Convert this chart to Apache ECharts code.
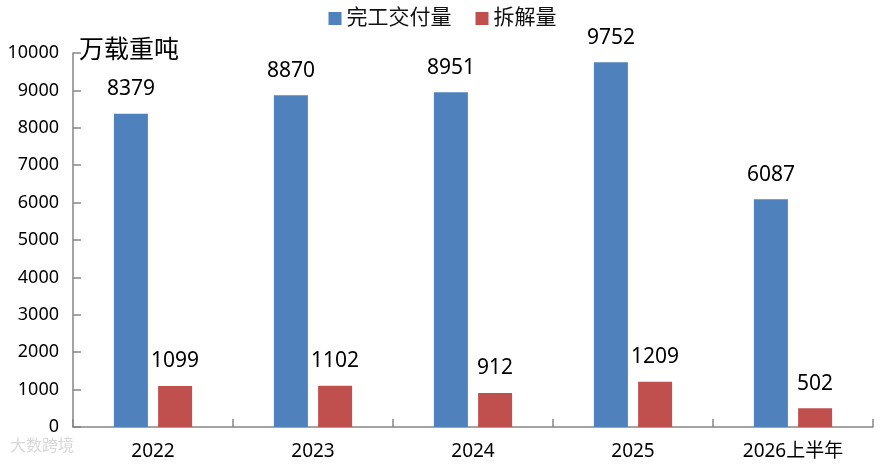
<!DOCTYPE html>
<html><head><meta charset="utf-8">
<script src="https://cdn.jsdelivr.net/npm/echarts@6/dist/echarts.min.js"></script>
<style>html,body{margin:0;padding:0;background:#fff}#c{width:885px;height:464px}</style>
</head><body><div id="c"></div>
<script>
const categories = ['2022','2023','2024','2025','2026上半年'];
const deliveries = [8379, 8870, 8951, 9752, 6087];
const scrapping = [1099, 1102, 912, 1209, 502];
const yTicks = {min:0, max:10000, interval:1000};
const seriesNames = ['完工交付量','拆解量'];
const unitLabel = '万载重吨';

const font = '"Noto Sans", "Noto Sans CJK SC", sans-serif';
const chart = echarts.init(document.getElementById('c'));
chart.setOption({
  animation:false,
  textStyle:{fontFamily:font},
  legend:{
    top:3, left:'center', itemWidth:13, itemHeight:13, itemGap:24,
    icon:'rect',
    textStyle:{fontSize:21, color:'#111', fontFamily:font},
    data:seriesNames
  },
  grid:{left:73, right:12, top:53, bottom:37, containLabel:false},
  xAxis:{
    type:'category', data:categories,
    axisLine:{lineStyle:{color:'#868686', width:1.5}},
    axisTick:{show:true, inside:true, length:8, lineStyle:{color:'#868686', width:1.5}},
    axisLabel:{fontSize:19, color:'#000', margin:15, fontFamily:font}
  },
  yAxis:{
    type:'value', min:yTicks.min, max:yTicks.max, interval:yTicks.interval,
    splitLine:{show:false},
    axisLine:{show:true, lineStyle:{color:'#868686', width:1.5}},
    axisTick:{show:true, inside:true, length:8, lineStyle:{color:'#868686', width:1.5}},
    axisLabel:{fontSize:18, color:'#000', margin:14, fontFamily:font,
      formatter:function(v){return String(v);}}
  },
  graphic:[
    {type:'text', left:79, top:38, style:{text:unitLabel, fontSize:25, fill:'#000', fontFamily:font}},
    {type:'text', left:10, top:438, style:{text:'大数跨境', fontSize:16, fill:'#d8d8d8', fontFamily:font}}
  ],
  series:[
    {name:seriesNames[0], type:'bar', data:deliveries, barWidth:34, barGap:'30%',
     itemStyle:{color:'#4F81BD'},
     label:{show:true, position:'top', distance:14, fontSize:21, color:'#000', fontFamily:font}},
    {name:seriesNames[1], type:'bar', data:scrapping, barWidth:34, barGap:'30%',
     itemStyle:{color:'#C0504D'},
     label:{show:true, position:'top', distance:14, fontSize:21, color:'#000', fontFamily:font}}
  ]
});
</script></body></html>
